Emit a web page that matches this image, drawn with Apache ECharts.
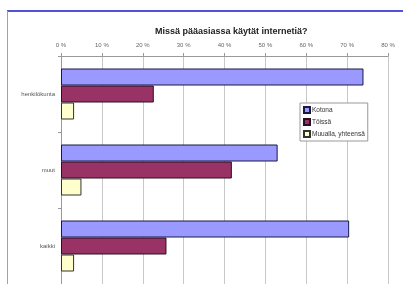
<!DOCTYPE html>
<html><head><meta charset="utf-8">
<script src="https://cdn.jsdelivr.net/npm/echarts@6/dist/echarts.min.js"></script>
<style>html,body{margin:0;padding:0;background:#fff}#c{width:403px;height:284px}</style>
</head><body><div id="c"></div>
<script>
const categories = ['henkilökunta', 'muut', 'kaikki'];
const kotona = [0.74, 0.53, 0.705];
const toissa = [0.227, 0.418, 0.258];
const muualla = [0.032, 0.05, 0.032];
const seriesNames = ['Kotona', 'Töissä', 'Muualla, yhteensä'];
const tickLabels = ['0 %', '10 %', '20 %', '30 %', '40 %', '50 %', '60 %', '70 %', '80 %'];

const chart = echarts.init(document.getElementById('c'), null, {renderer: 'canvas'});
const font = 'Liberation Sans, Arial, sans-serif';
chart.setOption({
  animation: false,
  backgroundColor: '#fff',
  title: {text: 'Missä pääasiassa käytät internetiä?', left: 150, top: 22,
    textStyle: {fontSize: 9, fontWeight: 'bold', color: '#222', fontFamily: font}},
  legend: {orient: 'vertical', left: 300, top: 103, width: 70,
    itemWidth: 6, itemHeight: 6, itemGap: 4, padding: [3, 3, 3, 3],
    borderColor: '#999', borderWidth: 1, backgroundColor: '#fff',
    icon: 'rect',
    textStyle: {fontSize: 6.5, color: '#333', fontFamily: font, padding: [0, 0, 0, -3]},
    data: seriesNames},
  graphic: [
    {type: 'line', shape: {x1: 7, y1: 11, x2: 403, y2: 11}, style: {stroke: '#1a1acc', lineWidth: 1.5}},
    {type: 'line', shape: {x1: 7.5, y1: 11, x2: 7.5, y2: 284}, style: {stroke: '#9999ee', lineWidth: 1}}
  ],
  grid: {left: 61, right: 15, top: 56, bottom: -1, containLabel: false},
  xAxis: {type: 'value', position: 'top', min: 0, max: 0.8, interval: 0.1,
    axisLine: {show: true, lineStyle: {color: '#999'}},
    axisTick: {show: true, length: 3, lineStyle: {color: '#999'}},
    splitLine: {show: true, lineStyle: {color: '#c8c8c8'}},
    axisLabel: {fontSize: 6, color: '#666', fontFamily: font, margin: 8,
      formatter: v => tickLabels[Math.round(v * 10)]}},
  yAxis: {type: 'category', data: categories, inverse: true,
    axisLine: {show: true, lineStyle: {color: '#999'}},
    axisTick: {show: true, length: 3, lineStyle: {color: '#999'}},
    axisLabel: {fontSize: 6, color: '#555', fontFamily: font, margin: 6}},
  series: [
    {name: seriesNames[0], type: 'bar', data: kotona, barWidth: 17, barGap: '0%',
      itemStyle: {color: '#9999ff', borderColor: '#1a1a40', borderWidth: 1}},
    {name: seriesNames[1], type: 'bar', data: toissa, barWidth: 17, barGap: '0%',
      itemStyle: {color: '#993366', borderColor: '#2a1020', borderWidth: 1}},
    {name: seriesNames[2], type: 'bar', data: muualla, barWidth: 17, barGap: '0%',
      itemStyle: {color: '#ffffcc', borderColor: '#333', borderWidth: 1}}
  ]
});
</script></body></html>
